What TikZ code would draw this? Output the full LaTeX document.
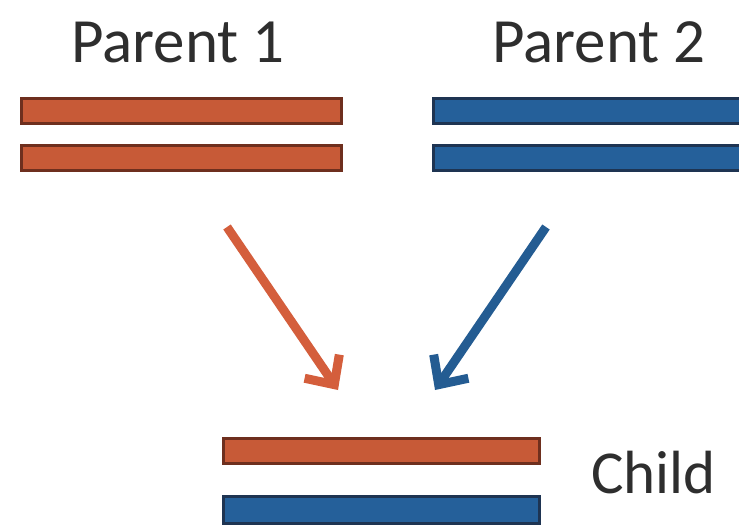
\documentclass[tikz,border=0pt]{standalone}
\usepackage{fontspec}
\setmainfont{Carlito}
\usetikzlibrary{arrows.meta}
\definecolor{orfill}{HTML}{C75A37}
\definecolor{ordraw}{HTML}{6E2F1E}
\definecolor{blfill}{HTML}{25609A}
\definecolor{bldraw}{HTML}{1E3452}
\definecolor{orarrow}{HTML}{D45E3C}
\definecolor{blarrow}{HTML}{245C92}
\definecolor{txt}{HTML}{2E2E2E}
\begin{document}
\begin{tikzpicture}[x=1pt,y=-1pt,
  orbar/.style={draw=ordraw,fill=orfill,line width=3pt,inner sep=0pt,outer sep=0pt},
  blbar/.style={draw=bldraw,fill=blfill,line width=3pt,inner sep=0pt,outer sep=0pt},
  lbl/.style={text=txt,inner sep=0pt,anchor=base west},
  arr/.style={line width=9pt,-{Straight Barb[length=22pt,width=42pt]}}]
\useasboundingbox (0,0) rectangle (739,527);
% parent 1
\node[lbl,font=\fontsize{63}{70}\selectfont] (p1) at (71,63) {Parent 1};
\node[orbar,minimum width=320pt,minimum height=25pt] (p1a) at (181,111) {};
\node[orbar,minimum width=320pt,minimum height=25pt] (p1b) at (181,158) {};
% parent 2
\node[lbl,font=\fontsize{63}{70}\selectfont] (p2) at (492,63) {Parent 2};
\node[blbar,minimum width=330pt,minimum height=25pt] (p2a) at (598,111) {};
\node[blbar,minimum width=330pt,minimum height=25pt] (p2b) at (598,158) {};
% child
\node[orbar,minimum width=316pt,minimum height=25pt] (ca) at (381,451) {};
\node[blbar,minimum width=316pt,minimum height=27pt] (cb) at (381,510) {};
\node[lbl,font=\fontsize{61}{70}\selectfont] (cl) at (591,493) {Child};
% arrows
\coordinate (o1) at (227,227);
\coordinate (o2) at (338,390);
\coordinate (b1) at (546,227);
\coordinate (b2) at (435,390);
\draw[arr,orarrow] (o1) -- (o2);
\draw[arr,blarrow] (b1) -- (b2);
\end{tikzpicture}
\end{document}
